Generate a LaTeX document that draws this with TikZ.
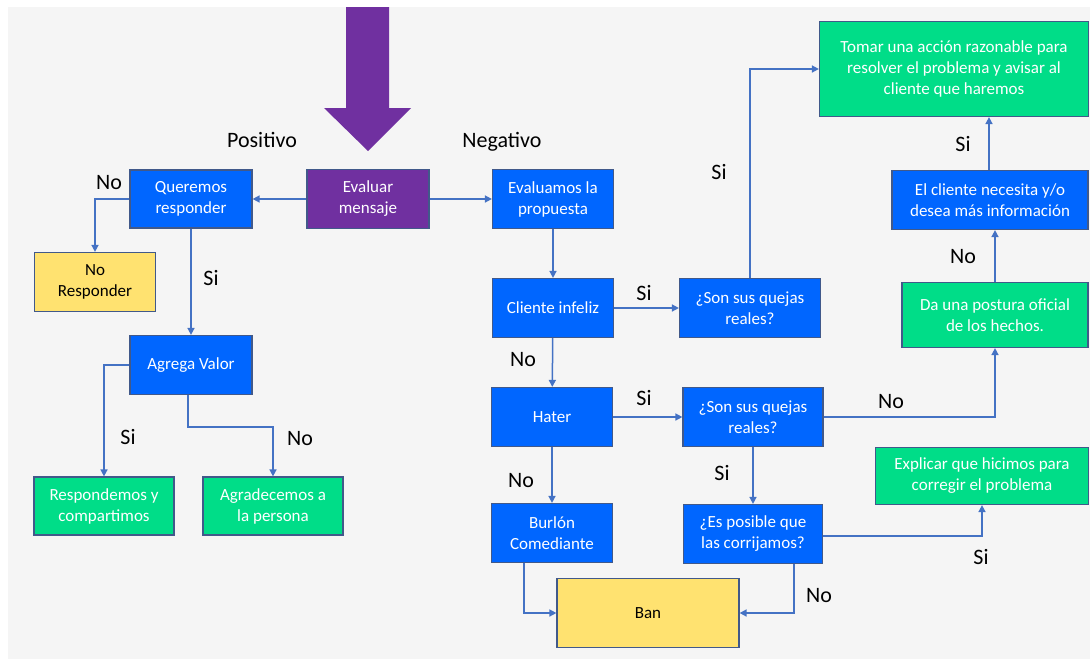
\documentclass[tikz,border=0pt]{standalone}
\usepackage{fontspec}
\setmainfont{Carlito}
\usetikzlibrary{arrows.meta, graphs}

\definecolor{bgGray}{HTML}{F5F5F5}
\definecolor{boxBlue}{HTML}{0066FF}
\definecolor{boxGreen}{HTML}{00DD88}
\definecolor{boxYellow}{HTML}{FFE270}
\definecolor{boxPurple}{HTML}{7030A0}
\definecolor{boxLine}{HTML}{41598A}
\definecolor{flowLine}{HTML}{4472C4}

\begin{document}
\begin{tikzpicture}
    [
        x=1pt, y=-1pt,
        >={Triangle[length=7pt,width=7pt]},
        block/.style = {
                draw=boxLine,
                line width=1.2pt,
                rectangle,
                inner sep=2pt,
                align=center,
                text=white,
                font=\fontsize{17}{21}\selectfont
            },
        blue block/.style = {block, fill=boxBlue},
        green block/.style = {block, fill=boxGreen},
        yellow block/.style = {block, fill=boxYellow, text=black},
        purple block/.style = {block, fill=boxPurple},
        flow/.style = {draw=flowLine, line width=1.5pt, ->},
        answer/.style = {font=\fontsize{22}{26}\selectfont, text=black},
    ]

    \useasboundingbox (0,0) rectangle (1090,659);
    \fill[white] (0,0) rectangle (1090,659);
    \fill[bgGray] (8,7) rectangle (1090,659);

    % big arrow into the first box
    \fill[boxPurple] (346,7) -- (389,7) -- (389,108) -- (411,108) -- (368,151)
        -- (324,108) -- (346,108) -- cycle;

    % positive side
    \node [purple block, minimum width=122, minimum height=59] (evaluar) at (368,199) {Evaluar\\mensaje};
    \node [blue block, minimum width=122, minimum height=58] (queremos) at (191,199) {Queremos\\responder};
    \node [yellow block, minimum width=121, minimum height=59] (noresp) at (95,282) {No\\Responder};
    \node [blue block, minimum width=122, minimum height=59] (agrega) at (191,365) {Agrega Valor};
    \node [green block, minimum width=140, minimum height=58] (respondemos) at (104,506) {Respondemos y\\compartimos};
    \node [green block, minimum width=140, minimum height=58] (agradecemos) at (273,506) {Agradecemos a\\la persona};

    % negative side
    \node [blue block, minimum width=121, minimum height=59] (evaluamos) at (553,199) {Evaluamos la\\propuesta};
    \node [blue block, minimum width=121, minimum height=59] (infeliz) at (553,308) {Cliente infeliz};
    \node [blue block, minimum width=141, minimum height=59] (quejasA) at (750,308) {¿Son sus quejas\\reales?};
    \node [blue block, minimum width=121, minimum height=59] (hater) at (552,417) {Hater};
    \node [blue block, minimum width=140, minimum height=59] (quejasB) at (753,417) {¿Son sus quejas\\reales?};
    \node [blue block, minimum width=139, minimum height=59] (posible) at (753,534) {¿Es posible que\\las corrijamos?};
    \node [blue block, minimum width=121, minimum height=59] (burlon) at (552,533) {Burlón\\Comediante};
    \node [yellow block, minimum width=182, minimum height=69] (ban) at (648,613) {Ban};

    \node [green block, minimum width=269, minimum height=95] (tomar) at (954,69) {Tomar una acción razonable para\\resolver el problema y avisar al\\cliente que haremos};
    \node [blue block, minimum width=196, minimum height=59] (necesita) at (990,200) {El cliente necesita y/o\\desea más información};
    \node [green block, minimum width=186, minimum height=65] (postura) at (995,315) {Da una postura oficial\\de los hechos.};
    \node [green block, minimum width=213, minimum height=57] (explicar) at (982,476) {Explicar que hicimos para\\corregir el problema};

    \graph[use existing nodes, edges={flow}] {
        evaluar -> queremos -> agrega;
        evaluar -> evaluamos -> infeliz -> hater -> burlon;
        hater -> quejasB -> posible;
    };

    \draw[flow] (queremos.west) -| (noresp.north);
    \draw[flow] (agrega.west) -| (respondemos.north);
    \draw[flow] ([xshift=-3]agrega.south) -- ++(0,32) -| (agradecemos.north);
    \draw[flow] (infeliz.east) -- (infeliz.east -| quejasA.west);
    \draw[flow] (quejasA.north) |- (tomar.west);
    \draw[flow] (quejasB.east) -| (postura.south);
    \draw[flow] (postura.north) -- (postura.north |- necesita.south);
    \draw[flow] ([xshift=-1]necesita.north) -- ([xshift=-1]necesita.north |- tomar.south);
    \draw[flow] ([yshift=-2]posible.east) -| (explicar.south);
    \draw[flow] ([xshift=-28]burlon.south) |- (ban.west);
    \draw[flow] ([xshift=41]posible.south) |- (ban.east);

    % answers
    \node [answer] (lblPositivo) at (262,140) {Positivo};
    \node [answer] (lblNegativo) at (502,142) {Negativo};
    \node [answer] (lblNoA) at (109,183) {No};
    \node [answer] (lblSiA) at (211,278) {Si};
    \node [answer] (lblSiB) at (128,437) {Si};
    \node [answer] (lblNoB) at (300,439) {No};
    \node [answer] (lblSiC) at (644,293) {Si};
    \node [answer] (lblSiD) at (719,172) {Si};
    \node [answer] (lblSiE) at (963,144) {Si};
    \node [answer] (lblNoC) at (963,257) {No};
    \node [answer] (lblNoD) at (523,360) {No};
    \node [answer] (lblSiF) at (644,398) {Si};
    \node [answer] (lblNoE) at (891,402) {No};
    \node [answer] (lblSiG) at (722,473) {Si};
    \node [answer] (lblNoF) at (521,481) {No};
    \node [answer] (lblSiH) at (981,557) {Si};
    \node [answer] (lblNoG) at (819,596) {No};

\end{tikzpicture}
\end{document}
